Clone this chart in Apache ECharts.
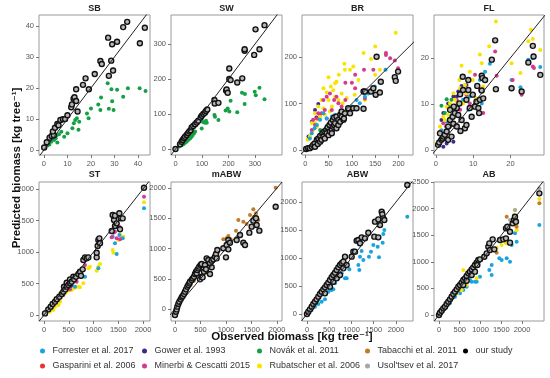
<!DOCTYPE html>
<html><head><meta charset="utf-8">
<script src="https://cdn.jsdelivr.net/npm/echarts@6/dist/echarts.min.js"></script>
<style>html,body{margin:0;padding:0;background:#fff}#c{width:550px;height:378px}</style>
</head><body><div id="c"></div>
<script>
// ---------- DATA ----------
const panelTitles = ['SB','SW','BR','FL','ST','mABW','ABW','AB'];
const xTicks = [[0,10,20,30,40],[0,100,200,300],[0,50,100,150,200],[0,10,20],[0,500,1000,1500,2000],[0,500,1000,1500,2000],[0,500,1000,1500,2000],[0,500,1000,1500,2000]];
const yTicks = [[0,10,20,30,40],[0,100,200,300],[0,100,200],[0,10,20],[0,500,1000,1500,2000],[0,500,1000,1500,2000],[0,500,1000,1500,2000],[0,500,1000,1500,2000,2500]];
const xRange = [[-2.1,45.1],[-17,402],[-6.9,231],[-0.5,29],[-101,2141],[-78,2098],[-112,2382],[-120,2530]];
const yRange = [[-1.6,43.5],[-17,383],[-10.8,291],[-1.1,29.3],[-95,2111],[-198,2099],[-125,2357],[-113,2500]];

const studies = ['Forrester et al. 2017','Gower et al. 1993','Novák et al. 2011','Tabacchi et al. 2011','our study','Gasparini et al. 2006','Minerbi & Cescatti 2015','Rubatscher et al. 2006',"Usol'tsev et al. 2017"];
const studyColors = ['#1ba3e0','#3f2a8c','#14a044','#c07a28','#000000','#e8352e','#d6398e','#f7e400','#a6a6a6'];

// SB
const SB_ours = [[0.1,0.8],[1.2,2.5],[2.4,4],[3.3,4.5],[4.2,4.8],[3.8,6],[4.7,7.2],[5.7,8.4],[6.2,8],[7,9.7],[8.1,9.9],[9,10],[10,11.2],[11.6,13.8],[11.9,14.7],[12.6,16.5],[13,17],[13.7,19.6],[13.7,15.8],[14.3,12.4],[16.6,21],[17.7,23.1],[19.1,19.6],[21.6,24.5],[24,28.7],[24.6,27.7],[27.6,23.9],[28.6,28.8],[29.4,25.6],[27.3,36.2],[29,34.1],[31.1,34.9],[33.7,39.6],[35.4,41.3],[40.8,34.4],[42.9,39.4]];
const SB_novak = [[1.5,1.5],[2.3,1.8],[3.1,2.7],[4.3,3.2],[5,3.8],[5.7,2.4],[5.4,4.8],[6.4,5.1],[7.4,5.9],[8.6,4.3],[10,5.4],[12.1,7],[12.7,8.6],[13.3,9.7],[14,10.2],[15,9.1],[14.7,6.5],[18.3,11.8],[19,10.2],[20,13.4],[23.1,14.7],[24.3,16.9],[24,12.9],[27.1,21.5],[27.6,13.3],[28.7,19.6],[29,15.7],[29.6,12.9],[31.1,19.4],[33.7,17.2],[35.7,19.9],[40.7,19.9],[43.2,19]];
// SW
const SW_ours = [[0,0],[17,14],[23,21],[27,26],[32,31],[36,35],[42,40],[47,45],[52,50],[57,54],[61,62],[67,66],[74,71],[80,76],[86,81],[95,90],[99,95],[105,100],[111,104],[115,109],[120,113],[147,140],[148,130],[162,132],[191,167],[193,170],[197,161],[203,200],[203,230],[208,197],[233,190],[252,202],[261,281],[261,285],[297,269],[302,342],[317,285],[336,354]];
const SW_novak = [[15,7],[23,11],[30,14],[36,18],[42,21],[48,26],[55,30],[61,35],[65,40],[70,45],[74,50],[99,59],[104,77],[111,75],[118,75],[115,81],[147,97],[149,92],[162,83],[189,110],[197,116],[203,107],[208,138],[233,105],[251,161],[262,157],[261,129],[299,164],[303,154],[317,175],[336,142]];
// BR
const BR_ours = [[2,2],[6,4],[10,4],[14,7],[17,11],[20,14],[21,7],[25,22],[27,13],[28,25],[32,18],[32,30],[35,22],[37,36],[39,29],[41,40],[42,25],[45,43],[46,36],[48,49],[50,32],[52,54],[53,40],[55,59],[57,43],[57,36],[59,65],[60,50],[62,70],[62,54],[64,58],[67,47],[67,72],[71,54],[71,65],[75,61],[75,76],[78,72],[78,83],[82,65],[83,68],[85,79],[92,90],[96,79],[103,90],[110,90],[125,89],[125,126],[128,126],[141,126],[146,133],[151,119],[153,201],[160,124],[162,147],[192,157],[194,149],[199,169]];
const BR_rubat = [[5,22],[10,29],[14,36],[14,58],[17,43],[21,58],[21,79],[25,50],[28,65],[28,94],[32,72],[35,108],[39,90],[39,133],[42,76],[46,124],[50,108],[50,157],[53,83],[55,137],[57,94],[60,129],[64,115],[64,144],[67,147],[71,108],[72,162],[78,122],[80,101],[84,186],[85,173],[89,112],[96,173],[103,180],[106,119],[114,151],[125,209],[128,108],[141,196],[150,223],[150,162],[160,173],[194,253]];
const BR_minerbi = [[14,43],[17,65],[21,54],[25,68],[28,79],[35,79],[39,108],[42,86],[46,68],[46,115],[53,122],[57,86],[62,108],[67,115],[71,101],[78,94],[86,108],[86,145],[100,145],[107,90],[107,133],[107,162],[126,173],[128,111],[146,173],[173,209],[173,205],[182,198],[192,193],[199,176]];
const BR_forr = [[10,25],[14,36],[20,47],[25,54],[32,65],[39,79],[46,68],[53,58],[57,72],[64,76],[75,68],[78,79],[89,86],[100,94],[110,108],[117,101],[128,115],[135,122],[143,131],[149,137],[172,173],[196,151]];
const BR_gower = [[7,29],[14,61],[21,86],[28,99],[32,76],[24,70]];
const BR_novak = [[35,38],[32,43]];
// FL
const FL_ours = [[0.6,1.1],[0.9,1.6],[1.5,2.2],[1.8,2.5],[2,2.9],[1.1,3.6],[2.4,3.3],[2.9,4],[3.3,5.1],[3.3,2.2],[4.2,2.9],[3.8,6.5],[4.5,7.2],[4.7,5.7],[5.1,8],[5.6,9.1],[5.6,5.1],[6,7.6],[6.3,10.1],[6.6,4.1],[6.9,6.5],[7.8,4.7],[8.2,5.4],[6.5,12.1],[7.2,15.9],[7.3,13],[8.7,13],[8.2,10.9],[8.7,15.2],[9.1,9.1],[9.6,7.2],[9.9,12],[10.5,9.4],[10.9,10.5],[11.1,13.9],[11.4,9.1],[11.6,8],[11.8,10.9],[12.3,12.9],[12.7,11.2],[12.3,16.1],[12.5,15.6],[13.2,15.2],[4.8,9.4],[3.8,8.7],[15,19.6],[15.9,23.8],[16.1,13.2],[20.3,13.4],[23,12.7],[24.8,19],[26,22.6],[26.2,20.3],[28,16.3]];
const FL_rubat = [[0.2,1.4],[1.8,3.6],[1.1,5.1],[2,7.2],[2.4,6.5],[3.3,7.6],[2.9,9.4],[3.8,10.1],[4.7,12.3],[5.1,10.9],[5.6,10.1],[6.3,15.2],[6.5,13.4],[6.9,18.3],[7.3,10.1],[7.8,14.1],[8.2,12.3],[9.1,17],[9.9,15.2],[10.8,11.2],[11.8,20.7],[12.3,18.8],[12.7,13.8],[14.3,22.5],[16.1,27.9],[20.3,18.8],[22.7,16.7],[24.8,23.6],[25.5,26.1],[26,24.1],[28,21.7]];
const FL_minerbi = [[1.1,4],[2,5.8],[2.7,5.1],[3.8,8.7],[4.7,7.2],[5.6,10.9],[6.5,8.7],[8.2,12],[9.1,10.1],[10.5,16.3],[11.8,13],[12.7,8],[15.9,21.4],[16.3,16.1],[20.6,15.2],[23,12],[26,18.1],[26.3,17.8]];
const FL_forr = [[1.5,4.3],[2.9,6.2],[4.2,7.6],[6,9.4],[7.3,10.9],[8.7,8.7],[9.1,11.6],[10.9,13.8],[11.8,15.2],[12.3,10.1],[13.2,17],[14.5,18.7],[20.3,15.2],[22.7,13.6],[24.8,19.6],[26,19.9],[28,18]];
const FL_gower = [[1.1,2.2],[2,0.7],[2.9,1.4],[4.7,1.8],[1.5,6.5],[2,8],[3.3,10.1],[3.8,5.1],[4.7,11.6],[5.6,11.6],[6,12.7],[6.9,13.9],[8.2,14.1]];
const FL_novak = [[1.5,9.6],[2.9,11],[3.6,9.4],[2.4,8],[4.2,10.9],[5.1,8.7]];
// ST
const ST_ours = [[20,26],[88,90],[135,132],[175,175],[222,212],[256,249],[310,291],[357,333],[390,370],[404,450],[431,407],[458,450],[458,513],[492,476],[525,503],[525,566],[559,529],[593,608],[606,566],[646,608],[694,651],[727,688],[747,624],[781,725],[795,873],[828,915],[862,899],[896,915],[1064,915],[1064,989],[1084,1095],[1098,1190],[1118,1217],[1131,1138],[1367,1333],[1387,1587],[1414,1508],[1434,1413],[1434,1577],[1468,1455],[1522,1614],[1535,1360],[1549,1534],[1589,1534],[2020,2020]];
const ST_minerbi = [[54,53],[108,90],[189,159],[290,238],[391,317],[525,407],[660,529],[761,608],[828,794],[1118,1201],[1367,1233],[1401,1307],[1434,1323],[1468,1217],[1522,1402],[1535,1201],[2020,1878]];
const ST_rubat = [[121,53],[189,79],[222,132],[290,159],[323,212],[357,291],[424,344],[458,370],[512,397],[559,397],[606,423],[646,450],[694,450],[727,439],[795,503],[896,741],[929,767],[1064,704],[1098,767],[1131,810],[1387,1032],[1401,989],[1502,1190],[1535,1270],[1569,1233],[1603,1243],[2020,1789]];
const ST_forr = [[424,397],[626,450],[828,608],[1098,741],[1387,1243],[1434,1137],[1468,968],[1522,1270],[1589,1217],[2020,1693]];
const ST_gower = [[444,439],[492,397],[559,460]];
const ST_gasp = [[15,30],[40,60],[70,95]];
// mABW
const MA_ours = [[0,-99],[20,-44],[33,-6],[46,39],[65,83],[85,121],[111,160],[131,193],[150,215],[176,248],[196,287],[216,325],[242,369],[261,397],[281,424],[294,452],[327,479],[346,507],[373,534],[392,579],[412,617],[425,590],[438,645],[458,672],[477,700],[490,490],[503,727],[523,744],[523,534],[542,523],[569,617],[588,727],[608,656],[621,837],[654,810],[686,755],[686,579],[719,799],[719,689],[752,821],[784,865],[804,909],[817,837],[830,975],[948,1003],[1000,854],[1013,1058],[1046,986],[1046,1140],[1078,1096],[1209,1140],[1275,1223],[1340,1096],[1373,1058],[1458,1262],[1503,1361],[1536,1460],[1588,1499],[1601,1388],[1654,1295],[1974,1691]];
const MA_tabac = [[33,28],[65,66],[98,121],[163,204],[242,314],[307,397],[373,468],[425,562],[490,645],[490,727],[569,711],[634,601],[654,782],[719,837],[784,909],[850,948],[948,1152],[1013,1168],[1046,1207],[1092,1152],[1196,1295],[1242,1471],[1340,1444],[1405,1405],[1471,1554],[1536,1647],[1549,1526],[1588,1581],[1634,1471],[1974,2005]];
// ABW
const ABW_ours = [[0,0],[30,42],[67,83],[105,131],[142,179],[180,220],[217,262],[255,310],[292,357],[330,399],[367,440],[404,476],[404,369],[442,518],[479,560],[517,607],[517,488],[554,655],[592,696],[592,577],[629,738],[667,786],[667,637],[704,833],[742,875],[742,696],[779,905],[816,935],[816,815],[854,1024],[891,875],[1004,1024],[1041,1113],[1079,1113],[1116,1310],[1154,1321],[1191,1262],[1228,1369],[1303,1351],[1378,1452],[1513,1381],[1528,1649],[1603,1690],[1603,1369],[1640,1589],[1678,1827],[1693,1780],[1715,1708],[1738,1679],[2254,2303]];
const ABW_forr = [[30,24],[105,71],[180,131],[255,179],[330,220],[404,262],[479,399],[517,429],[554,429],[592,440],[629,548],[704,637],[779,726],[854,637],[891,637],[951,798],[1154,875],[1176,786],[1191,1024],[1228,1125],[1266,964],[1393,1024],[1438,1113],[1491,1232],[1588,1202],[1618,1012],[1700,1274],[1715,1429],[1738,1500],[2254,1737]];
// AB
const AB_ours = [[0,0],[24,44],[64,81],[104,125],[145,157],[185,207],[225,251],[265,294],[305,345],[345,395],[386,439],[426,482],[466,533],[506,564],[546,608],[586,658],[586,564],[627,689],[667,733],[667,645],[707,783],[747,815],[787,858],[787,752],[827,896],[867,940],[867,815],[908,984],[924,940],[948,1034],[988,1046],[1092,1096],[1149,1159],[1189,1284],[1213,1347],[1229,1222],[1293,1422],[1333,1234],[1470,1410],[1550,1422],[1614,1629],[1614,1441],[1647,1660],[1711,1566],[1711,1360],[1775,1723],[1807,1786],[1831,1848],[1855,1754],[2418,2287]];
const AB_rubat = [[185,251],[386,407],[426,407],[546,470],[586,846],[667,752],[667,564],[787,877],[867,971],[908,689],[1028,1065],[1229,1316],[1293,1222],[1389,1266],[1510,1316],[1614,1347],[1695,1548],[1807,1880],[1831,1974],[1855,1673],[1871,1598],[2418,2180]];
const AB_tabac = [[466,470],[1389,1172],[1631,1848],[1871,1660],[2418,2099]];
const AB_usol = [[1108,1096],[1711,1786],[1831,1974],[2418,2381]];
const AB_forr = [[145,125],[265,219],[386,345],[506,407],[546,564],[586,470],[667,533],[747,658],[787,627],[867,627],[908,627],[988,720],[1213,846],[1269,940],[1269,752],[1454,1065],[1510,1034],[1631,1065],[1711,1002],[1751,1316],[1831,1535],[1871,1378],[2418,1692]];

// panel index -> list of [studyIndex, data]
const panelSeries = [
  [[2,SB_novak],[4,SB_ours]],
  [[2,SW_novak],[4,SW_ours]],
  [[1,BR_gower],[2,BR_novak],[7,BR_rubat],[6,BR_minerbi],[0,BR_forr],[4,BR_ours]],
  [[1,FL_gower],[2,FL_novak],[0,FL_forr],[6,FL_minerbi],[4,FL_ours],[7,FL_rubat]],
  [[5,ST_gasp],[1,ST_gower],[7,ST_rubat],[0,ST_forr],[6,ST_minerbi],[4,ST_ours]],
  [[3,MA_tabac],[4,MA_ours]],
  [[0,ABW_forr],[4,ABW_ours]],
  [[0,AB_forr],[7,AB_rubat],[3,AB_tabac],[8,AB_usol],[4,AB_ours]]
];

// ---------- LAYOUT ----------
const FONT = "'Liberation Sans', Arial, 'DejaVu Sans', sans-serif";
const cols = [[39,150],[171,282],[302,413],[434,544]];
const rows = [[15,155],[182,321]];
const titleY = [9,175];

const grids=[], xAxes=[], yAxes=[], series=[], graphics=[];
for (let i=0;i<8;i++){
  const c = cols[i%4], r = rows[Math.floor(i/4)];
  grids.push({left:c[0], top:r[0], width:c[1]-c[0], height:r[1]-r[0], show:true, borderColor:'#9a9a9a', borderWidth:1, backgroundColor:'transparent'});
  const axisCommon = (ticks)=>({
    axisLine:{show:false,onZero:false},
    splitLine:{show:false},
    axisTick:{show:true,length:3,customValues:ticks,lineStyle:{color:'#777',width:1}},
    axisLabel:{customValues:ticks,fontSize:7.5,color:'#555',margin:5,fontFamily:FONT,showMinLabel:true,showMaxLabel:true,formatter:(v)=>String(v)}
  });
  xAxes.push(Object.assign({type:'value',gridIndex:i,min:xRange[i][0],max:xRange[i][1]},axisCommon(xTicks[i])));
  yAxes.push(Object.assign({type:'value',gridIndex:i,min:yRange[i][0],max:yRange[i][1]},axisCommon(yTicks[i])));
  for (const [si,data] of panelSeries[i]){
    const ours = si===4;
    series.push({
      type:'scatter', name:studies[si], xAxisIndex:i, yAxisIndex:i, data:data,
      symbol:'circle', symbolSize: ours?5:4,
      itemStyle: ours?{color:'#b5b5b5',borderColor:'#111',borderWidth:1.4,opacity:1}:{color:studyColors[si],opacity:1},
      z: ours?3:2
    });
  }
  const lo = Math.min(xRange[i][0],yRange[i][0]), hi = Math.max(xRange[i][1],yRange[i][1]);
  series.push({type:'line', xAxisIndex:i, yAxisIndex:i, data:[[lo,lo],[hi,hi]], showSymbol:false, silent:true, clip:true,
    lineStyle:{color:'#222',width:1}, z:4});
  graphics.push({type:'text', x:(c[0]+c[1])/2, y:titleY[Math.floor(i/4)], style:{text:panelTitles[i], font:"bold 9px "+FONT, fill:'#222', textAlign:'center', textVerticalAlign:'middle'}});
}
graphics.push({type:'text', x:17, y:168, rotation:Math.PI/2, style:{text:'Predicted biomass [kg tree⁻¹]', font:"bold 11.5px "+FONT, fill:'#111', textAlign:'center', textVerticalAlign:'middle'}});
graphics.push({type:'text', x:292, y:337, style:{text:'Observed biomass [kg tree⁻¹]', font:"bold 11.5px "+FONT, fill:'#111', textAlign:'center', textVerticalAlign:'middle'}});

// legends
const legendPos = [[40,346.5],[142,346.5],[257,346.5],[365,346.5],[463,346.5],[40,361.5],[142,361.5],[257,361.5],[365,361.5]];
const legends = studies.map((s,k)=>({
  data:[{name:s, itemStyle:{color:studyColors[k],borderWidth:0}}],
  left:legendPos[k][0], top:legendPos[k][1], padding:0, itemWidth:10, itemHeight:5, icon:'circle',
  textStyle:{fontSize:9,color:'#333',fontFamily:FONT}, selectedMode:false
}));

const chart = echarts.init(document.getElementById('c'), null, {renderer:'canvas'});
chart.setOption({
  animation:false, backgroundColor:'#fff',
  textStyle:{fontFamily:FONT},
  grid:grids, xAxis:xAxes, yAxis:yAxes, series:series, legend:legends, graphic:graphics
});
</script></body></html>
